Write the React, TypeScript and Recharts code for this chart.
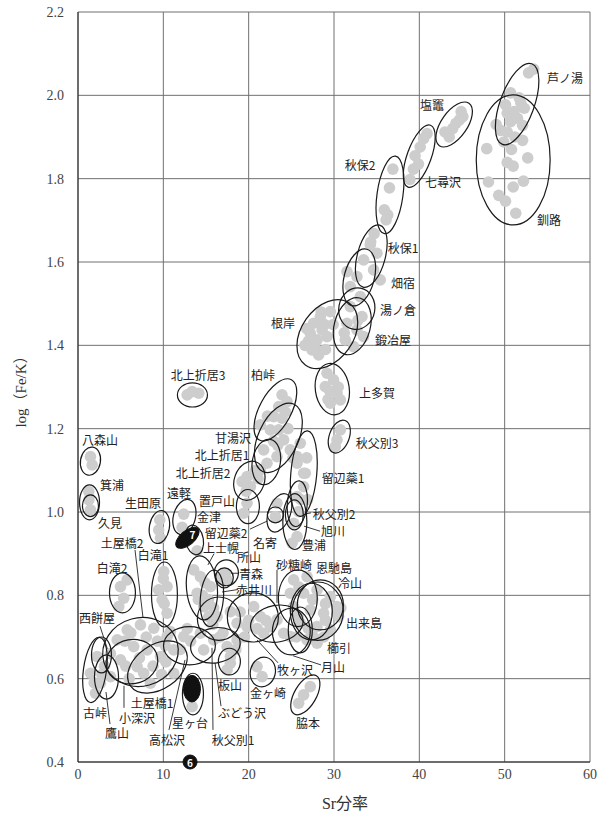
import React from 'react';
import { ScatterChart, Scatter, XAxis, YAxis, CartesianGrid, ReferenceLine, Label } from 'recharts';

const xTicks = [0, 10, 20, 30, 40, 50, 60];
const yTicks = [0.4, 0.6, 0.8, 1.0, 1.2, 1.4, 1.6, 1.8, 2.0, 2.2];

// measured samples [Sr fraction, log(Fe/K)]
const samples: [number, number][] = [
  [52.8, 2.054], [53.4, 2.063], [50.7, 2.006], [51.9, 1.981], [52.3, 1.969], [50.3, 1.957], [50.7, 1.937],
  [51.5, 1.945], [52.1, 1.928], [49.5, 1.916], [50.3, 1.912], [49.9, 1.888], [52.1, 1.892], [47.9, 1.872],
  [50.3, 1.839], [52.2, 1.794], [48.1, 1.792], [50.1, 1.746], [51.3, 1.717], [51.1, 1.961], [50.1, 1.977], [51.7, 1.994],
  [49.0, 1.93], [51.2, 1.9], [50.8, 1.87], [51.0, 1.83], [49.3, 1.76], [52.7, 1.85], [51.0, 1.78],
  [44.9, 1.961], [45.1, 1.949], [44.3, 1.933], [43.9, 1.92], [43.0, 1.912], [43.5, 1.9], [44.7, 1.941],
  [40.9, 1.908], [40.5, 1.896], [40.1, 1.876], [39.5, 1.855], [39.9, 1.835], [39.3, 1.823], [38.9, 1.798],
  [36.9, 1.823], [36.5, 1.778], [35.9, 1.725], [36.1, 1.701], [36.3, 1.713],
  [34.7, 1.668], [34.3, 1.648], [34.25, 1.641], [35.03, 1.621], [33.47, 1.605], [34.64, 1.581], [35.42, 1.557],
  [32.69, 1.565], [31.91, 1.541], [33.08, 1.517], [31.52, 1.577],
  [31.91, 1.493], [33.28, 1.469], [31.52, 1.453], [32.69, 1.437], [33.47, 1.421], [31.32, 1.413], [32.3, 1.397],
  [32.8, 1.46], [31.2, 1.43],
  [27.61, 1.453], [28.4, 1.469], [27.22, 1.429], [28.01, 1.413], [27.42, 1.389], [28.6, 1.437], [29.57, 1.481],
  [29.18, 1.421], [28.2, 1.377], [26.8, 1.44], [27.0, 1.41], [28.9, 1.45], [29.9, 1.45], [27.9, 1.39], [29.0, 1.39],
  [28.5, 1.48], [26.6, 1.4],
  [29.18, 1.333], [29.95, 1.317], [28.98, 1.301], [30.35, 1.285], [29.57, 1.261], [30.74, 1.269],
  [29.5, 1.29], [30.5, 1.3], [29.3, 1.27],
  [30.74, 1.197], [30.35, 1.173], [30.15, 1.157],
  [23.91, 1.281], [23.52, 1.253], [24.5, 1.265], [22.93, 1.229], [23.91, 1.225], [22.54, 1.197], [23.52, 1.197], [21.37, 1.209],
  [22.2, 1.23], [24.3, 1.24], [22.9, 1.17], [24.6, 1.2], [23.4, 1.16], [25.2, 1.13],
  [24.1, 1.173], [24.88, 1.149], [23.32, 1.133], [21.76, 1.149], [22.15, 1.117], [25.67, 1.117], [26.44, 1.093], [21.37, 1.101],
  [19.81, 1.085], [20.2, 1.061], [19.23, 1.073], [20.8, 1.1], [21.1, 1.08], [19.7, 1.05],
  [19.81, 1.021], [19.42, 0.997],
  [13.37, 1.289], [14.15, 1.285], [12.79, 1.281],
  [26.05, 1.165], [26.64, 1.093], [26.44, 1.061], [25.67, 1.133], [26.9, 1.03], [26.1, 1.03], [26.8, 1.13],
  [23.32, 1.021], [23.13, 0.989], [25.67, 1.037], [25.86, 1.001], [25.27, 0.973], [25.67, 0.941], [25.08, 0.925],
  [1.46, 1.133], [1.66, 1.113],
  [1.27, 1.049], [1.27, 1.029], [1.46, 1.005],
  [9.58, 0.981], [9.46, 0.957], [9.66, 0.937],
  [12.39, 0.995], [12.2, 0.963], [13.96, 0.907],
  [4.98, 0.821], [5.36, 0.793], [4.78, 0.773], [5.76, 0.837],
  [10.05, 0.857], [10.44, 0.821], [9.86, 0.789], [10.44, 0.757], [9.46, 0.813], [10.1, 0.78], [10.0, 0.84],
  [14.34, 0.845], [13.96, 0.805], [14.73, 0.773], [15.52, 0.821], [15.32, 0.749], [13.56, 0.861],
  [14.6, 0.8], [14.9, 0.83], [15.3, 0.79], [14.1, 0.79], [15.9, 0.77],
  [17.27, 0.853], [17.47, 0.837], [16.69, 0.841],
  [5.76, 0.717], [7.32, 0.729], [8.88, 0.721], [10.44, 0.701], [4.59, 0.693], [6.53, 0.677], [8.1, 0.669],
  [9.66, 0.653], [11.22, 0.669], [2.25, 0.653], [1.46, 0.613], [2.63, 0.589], [3.81, 0.605], [2.05, 0.565],
  [4.98, 0.645], [7.7, 0.613], [8.49, 0.589], [6.93, 0.629], [11.22, 0.613],
  [3.8, 0.66], [5.5, 0.69], [6.2, 0.71], [8.0, 0.7], [9.3, 0.69], [10.2, 0.68], [7.2, 0.65], [5.6, 0.63],
  [3.1, 0.63], [1.9, 0.59], [2.8, 0.61], [8.8, 0.63], [10.3, 0.64], [12.0, 0.67], [13.2, 0.69], [12.8, 0.72],
  [6.0, 0.6], [9.8, 0.61],
  [10.83, 0.713], [12.39, 0.701], [14.34, 0.709], [15.9, 0.693], [17.47, 0.677], [18.64, 0.693], [14.73, 0.669],
  [17.86, 0.637], [17.47, 0.621],
  [13.37, 0.533],
  [15.13, 0.781], [16.3, 0.749], [17.86, 0.761], [18.64, 0.733], [19.81, 0.725], [20.59, 0.773], [21.37, 0.749],
  [22.54, 0.725], [23.32, 0.741], [21.76, 0.709], [24.1, 0.709],
  [15.8, 0.73], [17.0, 0.71], [19.0, 0.76], [20.0, 0.74], [22.0, 0.74], [21.0, 0.72], [19.5, 0.7], [16.6, 0.7], [18.5, 0.67],
  [20.98, 0.629], [21.57, 0.605],
  [25.27, 0.837], [26.84, 0.845], [24.88, 0.805], [26.44, 0.805], [28.01, 0.813], [29.57, 0.797], [30.35, 0.757],
  [25.27, 0.773], [27.22, 0.765], [28.78, 0.757], [26.05, 0.733], [28.01, 0.725], [29.57, 0.717], [24.88, 0.701],
  [26.84, 0.693], [28.01, 0.685], [30.35, 0.773], [30.54, 0.749],
  [25.9, 0.82], [27.5, 0.79], [29.0, 0.78], [25.8, 0.75], [27.0, 0.72], [29.0, 0.74], [25.6, 0.7], [27.6, 0.7],
  [30.8, 0.77], [28.8, 0.7],
  [27.22, 0.581], [26.44, 0.561], [25.86, 0.541],
  [17.86, 0.653],
];

// source ranges [Sr centre, log centre, Sr half width, log half height, tilt deg]
const ranges: [number, number, number, number, number][] = [
  [51.46, 1.979, 2.0, 0.103, 20],
  [51.0, 1.845, 4.33, 0.156, 0],
  [44.08, 1.93, 1.52, 0.062, 35],
  [39.99, 1.854, 1.41, 0.079, 20],
  [36.56, 1.761, 1.52, 0.094, 8],
  [34.37, 1.614, 1.64, 0.077, 15],
  [32.96, 1.563, 1.76, 0.07, 15],
  [32.67, 1.488, 2.11, 0.05, 10],
  [32.14, 1.446, 2.11, 0.07, 15],
  [29.22, 1.427, 3.04, 0.091, 35],
  [29.8, 1.295, 1.99, 0.062, -8],
  [30.62, 1.181, 1.17, 0.041, 20],
  [26.46, 1.092, 1.52, 0.103, 5],
  [13.41, 1.281, 1.76, 0.029, 0],
  [23.13, 1.245, 1.87, 0.082, 28],
  [23.48, 1.178, 2.34, 0.089, 25],
  [22.07, 1.12, 1.64, 0.055, 10],
  [20.08, 1.075, 1.76, 0.048, 20],
  [19.91, 1.013, 1.35, 0.041, 0],
  [1.46, 1.122, 1.17, 0.034, 10],
  [1.35, 1.023, 1.17, 0.042, 0],
  [1.46, 1.015, 0.94, 0.026, 0],
  [9.54, 0.964, 1.17, 0.04, 10],
  [12.47, 0.988, 1.29, 0.043, 15],
  [13.64, 0.933, 1.05, 0.036, -10],
  [23.13, 0.993, 0.94, 0.019, 0],
  [23.6, 0.998, 1.29, 0.048, 20],
  [25.7, 1.02, 1.17, 0.055, 5],
  [25.35, 0.993, 1.05, 0.036, 0],
  [25.41, 0.977, 1.41, 0.067, 0],
  [5.21, 0.806, 1.52, 0.048, 0],
  [10.13, 0.802, 1.52, 0.078, 0],
  [14.52, 0.818, 1.81, 0.077, -5],
  [15.69, 0.793, 1.35, 0.068, 5],
  [17.39, 0.854, 1.41, 0.031, 0],
  [17.15, 0.842, 1.05, 0.024, 0],
  [2.75, 0.657, 1.17, 0.043, 0],
  [1.99, 0.621, 1.35, 0.079, 8],
  [3.34, 0.604, 1.41, 0.053, 0],
  [7.32, 0.664, 4.45, 0.082, -15],
  [6.32, 0.641, 3.04, 0.053, -10],
  [9.31, 0.628, 3.86, 0.053, -35],
  [13.06, 0.679, 3.04, 0.046, 0],
  [13.47, 0.563, 1.23, 0.05, 0],
  [16.51, 0.744, 2.52, 0.052, 0],
  [16.1, 0.68, 2.93, 0.042, -10],
  [17.74, 0.641, 1.29, 0.032, 0],
  [20.49, 0.747, 2.99, 0.059, 0],
  [23.3, 0.732, 3.1, 0.044, -10],
  [21.66, 0.616, 1.46, 0.036, 15],
  [25.76, 0.793, 2.28, 0.068, 0],
  [25.0, 0.713, 2.22, 0.056, 0],
  [27.34, 0.761, 2.46, 0.068, 0],
  [28.1, 0.762, 2.99, 0.07, 0],
  [28.4, 0.777, 2.7, 0.06, 0],
  [26.05, 0.717, 1.41, 0.055, 0],
  [26.64, 0.561, 1.29, 0.053, 30],
];

// highlighted sources [label, Sr, log, Sr half width, log half height, tilt]
const marked: [string, number, number, number, number, number][] = [
  ['7', 12.82, 0.938, 1.64, 0.017, -40],
  ['', 13.35, 0.576, 1.0, 0.032, 0],
  ['6', 13.13, 0.4, 0.82, 0.0168, 0],
];

// site names [name, Sr, log]
const sites: [string, number, number][] = [
  ['芦ノ湯', 57.07, 2.042], ['塩竈', 41.49, 1.977], ['秋保2', 33.05, 1.835], ['七尋沢', 42.77, 1.794],
  ['釧路', 55.2, 1.703], ['秋保1', 38.09, 1.636], ['畑宿', 38.09, 1.552], ['湯ノ倉', 37.5, 1.485],
  ['鍛冶屋', 36.92, 1.415], ['根岸', 24.02, 1.456], ['北上折居3', 14.06, 1.329], ['柏峠', 21.68, 1.329],
  ['上多賀', 35.04, 1.288], ['八森山', 2.58, 1.173], ['秋父別3', 35.04, 1.168], ['甘湯沢', 18.16, 1.178],
  ['北上折居1', 16.88, 1.137], ['北上折居2', 14.65, 1.096], ['留辺蘂1', 31.06, 1.084], ['箕浦', 3.98, 1.067],
  ['遠軽', 11.84, 1.046], ['置戸山', 16.29, 1.028], ['生田原', 7.62, 1.022], ['金津', 15.35, 0.99],
  ['秋父別2', 30.0, 0.997], ['久見', 3.75, 0.974], ['留辺蘂2', 17.34, 0.952], ['旭川', 29.88, 0.955],
  ['土屋橋2', 5.16, 0.928], ['名寄', 21.91, 0.926], ['豊浦', 27.66, 0.921], ['上士幌', 16.76, 0.914],
  ['白滝1', 8.79, 0.897], ['所山', 20.04, 0.893], ['砂糖崎', 25.31, 0.875], ['白滝2', 3.98, 0.868],
  ['恩馳島', 30.0, 0.868], ['青森', 20.27, 0.852], ['冷山', 31.88, 0.83], ['赤井川', 20.63, 0.815],
  ['西餅屋', 2.23, 0.746], ['出来島', 33.52, 0.736], ['櫛引', 30.59, 0.674], ['月山', 29.88, 0.63],
  ['牧ヶ沢', 25.43, 0.621], ['板山', 17.81, 0.585], ['金ヶ崎', 22.27, 0.566], ['土屋橋1', 8.67, 0.544],
  ['古峠', 1.99, 0.518], ['ぶどう沢', 19.22, 0.518], ['小深沢', 6.91, 0.506], ['脇本', 26.95, 0.496],
  ['星ヶ台', 13.13, 0.496], ['鷹山', 4.57, 0.47], ['高松沢', 10.43, 0.455], ['秋父別1', 18.16, 0.455],
];

// leader lines [Sr1, log1, Sr2, log2]
const leaders: [number, number, number, number][] = [
  [6.68, 0.909, 7.62, 0.746],
  [2.58, 0.726, 3.75, 0.652],
  [3.75, 0.491, 3.28, 0.568],
  [5.39, 0.53, 5.39, 0.583],
  [10.66, 0.477, 12.54, 0.645],
  [15.82, 0.477, 15.7, 0.674],
  [16.76, 0.534, 16.06, 0.638],
  [23.44, 0.638, 20.98, 0.693],
  [28.48, 0.633, 25.2, 0.655],
  [23.32, 0.861, 23.32, 0.782],
  [17.81, 0.853, 18.75, 0.853],
  [18.75, 0.814, 16.88, 0.808],
  [15.94, 0.9, 15.23, 0.873],
  [20.16, 0.959, 22.15, 0.978],
  [26.49, 0.966, 28.36, 0.954],
  [26.6, 0.995, 27.3, 0.998],
];

const W = 601;
const H = 814;
const MARGIN = { top: 12, right: 11, bottom: 22, left: 0 };
const Y_AXIS_W = 78;
const X_AXIS_H = 30;
const SX = (W - MARGIN.left - MARGIN.right - Y_AXIS_W) / 60;
const SY = (H - MARGIN.top - MARGIN.bottom - X_AXIS_H) / 1.8;

const jp = '"Noto Sans CJK JP", "Noto Sans", sans-serif';
const serif = '"Liberation Serif", "DejaVu Serif", "Noto Sans CJK JP", serif';

const sampleData = samples.map(([x, y]) => ({ x, y }));
const rangeData = ranges.map(([x, y, rx, ry, rot]) => ({ x, y, rx, ry, rot }));
const markData = marked.map(([label, x, y, rx, ry, rot]) => ({ label, x, y, rx, ry, rot }));
const siteData = sites.map(([name, x, y]) => ({ name, x, y }));

const Dot = (p: any) => <circle cx={p.cx} cy={p.cy} r={5.8} fill="#cdcdcd" />;

const Ring = (p: any) => {
  const d = p.payload;
  return (
    <ellipse
      cx={p.cx}
      cy={p.cy}
      rx={d.rx * SX}
      ry={d.ry * SY}
      transform={`rotate(${d.rot} ${p.cx} ${p.cy})`}
      fill="none"
      stroke="#1a1a1a"
      strokeWidth={1.2}
    />
  );
};

const Mark = (p: any) => {
  const d = p.payload;
  return (
    <g>
      <ellipse
        cx={p.cx}
        cy={p.cy}
        rx={d.rx * SX}
        ry={d.ry * SY}
        transform={`rotate(${d.rot} ${p.cx} ${p.cy})`}
        fill="#111"
        stroke="#111"
      />
      {d.label && (
        <text
          x={p.cx + (d.label === '7' ? 5 : 0)}
          y={p.cy - (d.label === '7' ? 3 : 0)}
          textAnchor="middle"
          dominantBaseline="central"
          fill="#fff"
          style={{ fontSize: 10, fontWeight: 'bold', fontFamily: jp }}
        >
          {d.label}
        </text>
      )}
    </g>
  );
};

const SiteName = (p: any) => (
  <text
    x={p.cx}
    y={p.cy}
    textAnchor="middle"
    dominantBaseline="central"
    fill="#222"
    style={{ fontSize: 12, fontFamily: jp }}
  >
    {p.payload.name}
  </text>
);

const tickStyle = { fontSize: 14, fontFamily: serif, fill: '#444' };

export default function App() {
  return (
    <div style={{ position: 'absolute', left: 0, top: 0, background: '#fff' }}>
      <ScatterChart width={W} height={H} margin={MARGIN}>
        <CartesianGrid stroke="#707070" strokeWidth={1} />
        <XAxis
          type="number"
          dataKey="x"
          domain={[0, 60]}
          ticks={xTicks}
          height={X_AXIS_H}
          tickLine={false}
          tickSize={0}
          tickMargin={7}
          axisLine={{ stroke: '#222' }}
          tick={{ ...tickStyle, style: { fontFamily: serif } }}
        >
          <Label
            content={() => (
              <text x={345} y={803} textAnchor="middle" dominantBaseline="central" fill="#333" style={{ fontSize: 16, fontFamily: serif }}>
                Sr分率
              </text>
            )}
          />
        </XAxis>
        <YAxis
          type="number"
          dataKey="y"
          domain={[0.4, 2.2]}
          ticks={yTicks}
          width={Y_AXIS_W}
          tickLine={false}
          tickSize={0}
          tickMargin={14}
          axisLine={{ stroke: '#222' }}
          tickFormatter={(v: number) => v.toFixed(1)}
          tick={{ ...tickStyle, style: { fontFamily: serif } }}
        >
          <Label
            content={() => (
              <text
                x={21}
                y={388}
                transform="rotate(-90 21 388)"
                textAnchor="middle"
                dominantBaseline="central"
                fill="#333"
                style={{ fontSize: 15, fontFamily: serif }}
              >
                log（Fe/K）
              </text>
            )}
          />
        </YAxis>
        <Scatter data={sampleData} shape={Dot} isAnimationActive={false} />
        <Scatter data={rangeData} shape={Ring} isAnimationActive={false} />
        <Scatter data={markData} shape={Mark} isAnimationActive={false} />
        {leaders.map(([x1, y1, x2, y2], i) => (
          <ReferenceLine
            key={i}
            segment={[{ x: x1, y: y1 }, { x: x2, y: y2 }]}
            stroke="#222"
            strokeWidth={0.9}
          />
        ))}
        <Scatter data={siteData} shape={SiteName} isAnimationActive={false} />
      </ScatterChart>
    </div>
  );
}
